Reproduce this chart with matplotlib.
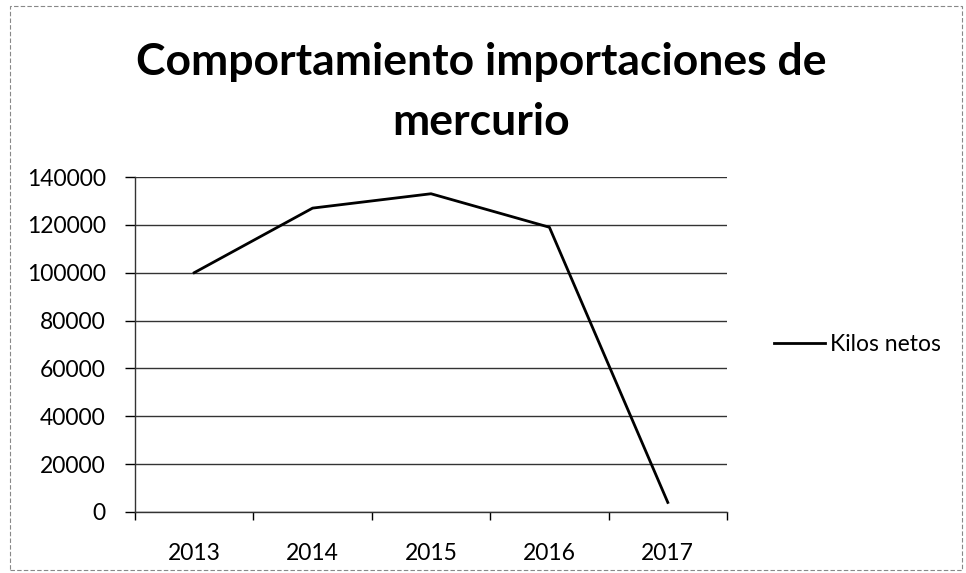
import matplotlib.pyplot as plt
from matplotlib.patches import Rectangle

years = ["2013", "2014", "2015", "2016", "2017"]
kilos_netos = [100000, 127000, 133000, 119000, 4000]
y_ticks = [0, 20000, 40000, 60000, 80000, 100000, 120000, 140000]

plt.rcParams["font.family"] = ["Lato", "DejaVu Sans"]

fig = plt.figure(figsize=(9.66, 5.73), dpi=100)
ax = fig.add_axes([135 / 966, 1 - 512 / 573, (727 - 135) / 966, (512 - 177) / 573])

x = range(len(years))
ax.plot(x, kilos_netos, color="black", linewidth=2, label="Kilos netos")

ax.set_xlim(-0.5, len(years) - 0.5)
ax.set_ylim(0, 140000)
ax.set_yticks(y_ticks)
ax.set_yticklabels([str(v) for v in y_ticks], fontsize=16.5)
ax.set_xticks(list(x))
ax.set_xticklabels(years, fontsize=16.5)
ax.set_xticks([i - 0.5 for i in range(len(years) + 1)], minor=True)
ax.tick_params(axis="x", which="major", length=0, pad=22)
ax.tick_params(axis="x", which="minor", length=6, width=1, direction="out")
ax.tick_params(axis="y", length=7, width=1, pad=14)

ax.grid(axis="y", color="#333333", linewidth=1)
ax.set_axisbelow(True)
for side in ["top", "right"]:
    ax.spines[side].set_visible(False)
for side in ["left", "bottom"]:
    ax.spines[side].set_color("#333333")
    ax.spines[side].set_linewidth(1)

fig.text(481 / 966, 1 - 62 / 573, "Comportamiento importaciones de", ha="center",
         va="center", fontsize=32, fontweight="bold")
fig.text(481 / 966, 1 - 122 / 573, "mercurio", ha="center", va="center",
         fontsize=32, fontweight="bold")

ax.legend(loc="center left", bbox_to_anchor=(1.045, 0.5), frameon=False,
          fontsize=16.5, handlelength=2.2, handletextpad=0.25)

fig.patches.append(Rectangle((10 / 966, 0.005), 0.985, 0.985, transform=fig.transFigure,
                             fill=False, edgecolor="#888888", linewidth=0.8,
                             linestyle=(0, (4, 2))))

fig.savefig("out.png", dpi=100)
